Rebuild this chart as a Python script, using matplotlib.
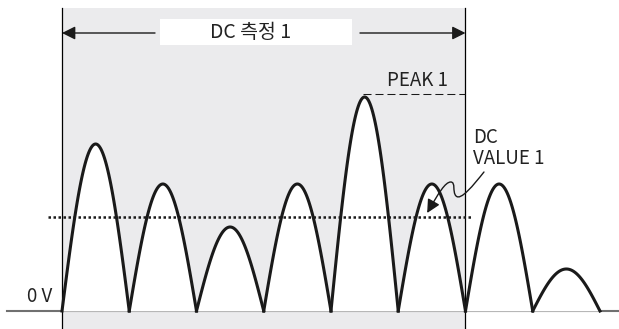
import numpy as np
import matplotlib
matplotlib.use("Agg")
import matplotlib.pyplot as plt
from matplotlib.patches import Rectangle, FancyArrowPatch
from matplotlib.path import Path

plt.rcParams['font.family'] = ['Noto Sans CJK KR', 'DejaVu Sans']

# Rectified waveform: one hump per half cycle
peaks = [1.67, 1.27, 0.84, 1.27, 2.14, 1.27, 1.27, 0.42]
dc_value = 0.94
peak_level = 2.17
window = (0, 6)            # measurement window, in half cycles

label_window = "DC 측정 1"
label_peak = "PEAK 1"
label_dc = "DC\nVALUE 1"
label_zero = "0 V"

gray = "#ebebed"
ink = "#1a1a1a"

fig = plt.figure(figsize=(6.19, 3.29), dpi=100)
ax = fig.add_axes([0, 0, 1, 1])
ax.set_xlim(-0.922, 8.283)
ax.set_ylim(-0.18, 3.11)
ax.axis("off")

# shaded measurement window
ax.add_patch(Rectangle((window[0], -0.18), window[1] - window[0], 3.03 + 0.18,
                       facecolor=gray, edgecolor="none", zorder=0))
for xv in window:
    ax.plot([xv, xv], [-0.18, 3.03], color="black", lw=0.9, zorder=2)

# baseline
ax.plot([-0.818, 8.283], [0, 0], color="#707070", lw=1.5, zorder=1)

# waveform
t = np.linspace(0, 1, 80)
for i, p in enumerate(peaks):
    x = i + t
    y = p * np.sin(np.pi * t)
    ax.fill_between(x, 0, y, color="white", lw=0, zorder=1)
    ax.plot(x, y, color=ink, lw=2.2, zorder=3, solid_joinstyle="round")

# DC level
ax.plot([-0.208, 6.11], [dc_value, dc_value], color=ink, lw=1.8,
        linestyle=(0, (1, 1)), zorder=3)

# peak level
ax.plot([4.476, 6.0], [peak_level, peak_level], color=ink, lw=0.75,
        linestyle=(0, (7.7, 3.8)), zorder=3)
ax.text(4.83, 2.31, label_peak, ha="left", va="center", fontsize=13.5,
        color="#222222", fontweight="medium")

# window arrows and label
ax.add_patch(Rectangle((1.457, 2.66), 4.312 - 1.457, 0.26,
                       facecolor="white", edgecolor="none", zorder=1))
ax.annotate("", xy=(window[0], 2.78), xytext=(1.383, 2.78),
            arrowprops=dict(arrowstyle="-|>", color=ink, lw=1.0,
                            mutation_scale=20, shrinkA=0, shrinkB=0))
ax.annotate("", xy=(window[1], 2.78), xytext=(4.431, 2.78),
            arrowprops=dict(arrowstyle="-|>", color=ink, lw=1.0,
                            mutation_scale=20, shrinkA=0, shrinkB=0))
ax.text(2.8, 2.78, label_window, ha="center", va="center", fontsize=14,
        color="#222222", fontweight="medium")

# DC value label with squiggle arrow
ax.text(6.11, 1.63, label_dc, ha="left", va="center", fontsize=13.5,
        color="#222222", linespacing=1.0, fontweight="medium")
verts = [(6.275, 1.39),
         (6.12, 1.26), (5.93, 1.10), (5.86, 1.15),
         (5.80, 1.19), (5.86, 1.29), (5.78, 1.29),
         (5.70, 1.29), (5.60, 1.18), (5.43, 0.98)]
codes = [Path.MOVETO] + [Path.CURVE4] * 9
ax.add_patch(FancyArrowPatch(path=Path(verts, codes), arrowstyle="-|>",
                             mutation_scale=20, color=ink, lw=1.0, zorder=4))

ax.text(-0.149, 0.14, label_zero, ha="right", va="center", fontsize=13.5,
        color="#222222", fontweight="medium")

fig.savefig("out.png", dpi=100)
